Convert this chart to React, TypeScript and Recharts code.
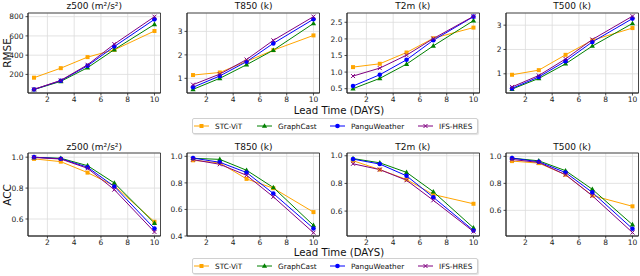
import React from 'react';
import { LineChart, Line, XAxis, YAxis, CartesianGrid, ReferenceArea } from 'recharts';

const FONT = "'DejaVu Sans', sans-serif";

const days = [1, 3, 5, 7, 10];
const xTicks = [2, 4, 6, 8, 10];

// RMSE
const rmseZ500Stc = [166, 265, 380, 455, 651];
const rmseZ500Gc = [43, 128, 270, 458, 720];
const rmseZ500Pw = [44, 135, 290, 490, 772];
const rmseZ500Ifs = [45, 138, 300, 515, 800];

const rmseT850Stc = [1.14, 1.25, 1.72, 2.2, 2.83];
const rmseT850Gc = [0.53, 1.0, 1.58, 2.2, 3.34];
const rmseT850Pw = [0.62, 1.1, 1.71, 2.49, 3.52];
const rmseT850Ifs = [0.73, 1.18, 1.8, 2.62, 3.63];

const rmseT2mStc = [1.15, 1.25, 1.59, 2.02, 2.34];
const rmseT2mGc = [0.5, 0.81, 1.24, 1.79, 2.55];
const rmseT2mPw = [0.58, 0.92, 1.37, 1.96, 2.67];
const rmseT2mIfs = [0.88, 1.12, 1.51, 2.01, 2.68];

const rmseT500Stc = [0.96, 1.15, 1.78, 2.38, 2.88];
const rmseT500Gc = [0.37, 0.81, 1.41, 2.14, 3.07];
const rmseT500Pw = [0.4, 0.87, 1.52, 2.31, 3.27];
const rmseT500Ifs = [0.46, 0.93, 1.61, 2.41, 3.37];

// ACC
const accZ500Stc = [0.989, 0.971, 0.9, 0.815, 0.582];
const accZ500Gc = [0.999, 0.993, 0.945, 0.833, 0.573];
const accZ500Pw = [1.0, 0.99, 0.935, 0.81, 0.538];
const accZ500Ifs = [0.998, 0.988, 0.928, 0.79, 0.516];

const accT850Stc = [0.97, 0.95, 0.83, 0.76, 0.58];
const accT850Gc = [0.985, 0.977, 0.895, 0.765, 0.48];
const accT850Pw = [0.987, 0.955, 0.878, 0.72, 0.457];
const accT850Ifs = [0.975, 0.94, 0.857, 0.695, 0.425];

const accT2mStc = [0.964, 0.9, 0.828, 0.72, 0.653];
const accT2mGc = [0.98, 0.949, 0.88, 0.74, 0.479];
const accT2mPw = [0.976, 0.94, 0.855, 0.7, 0.46];
const accT2mIfs = [0.942, 0.9, 0.823, 0.678, 0.452];

const accT500Stc = [0.965, 0.95, 0.864, 0.71, 0.63];
const accT500Gc = [0.987, 0.967, 0.894, 0.756, 0.494];
const accT500Pw = [0.987, 0.96, 0.88, 0.733, 0.464];
const accT500Ifs = [0.977, 0.955, 0.864, 0.708, 0.436];

const titles = ['z500 (m²/s²)', 'T850 (k)', 'T2m (k)', 'T500 (k)'];
const seriesNames = ['STC-ViT', 'GraphCast', 'PanguWeather', 'IFS-HRES'];
const colors = ['#FFA500', '#008000', '#0000FF', '#800080'];

const panels = [
  { row: 0, col: 0, s: [rmseZ500Stc, rmseZ500Gc, rmseZ500Pw, rmseZ500Ifs], domain: [7, 838], ticks: [200, 400, 600, 800], dec: 0 },
  { row: 0, col: 1, s: [rmseT850Stc, rmseT850Gc, rmseT850Pw, rmseT850Ifs], domain: [0.375, 3.785], ticks: [1, 2, 3], dec: 0 },
  { row: 0, col: 2, s: [rmseT2mStc, rmseT2mGc, rmseT2mPw, rmseT2mIfs], domain: [0.37, 2.78], ticks: [0.5, 1.0, 1.5, 2.0, 2.5], dec: 1 },
  { row: 0, col: 3, s: [rmseT500Stc, rmseT500Gc, rmseT500Pw, rmseT500Ifs], domain: [0.21, 3.5], ticks: [1, 2, 3], dec: 0 },
  { row: 1, col: 0, s: [accZ500Stc, accZ500Gc, accZ500Pw, accZ500Ifs], domain: [0.49, 1.027], ticks: [0.6, 0.8, 1.0], dec: 1 },
  { row: 1, col: 1, s: [accT850Stc, accT850Gc, accT850Pw, accT850Ifs], domain: [0.4, 1.025], ticks: [0.4, 0.6, 0.8, 1.0], dec: 1 },
  { row: 1, col: 2, s: [accT2mStc, accT2mGc, accT2mPw, accT2mIfs], domain: [0.42, 1.02], ticks: [0.6, 0.8, 1.0], dec: 1 },
  { row: 1, col: 3, s: [accT500Stc, accT500Gc, accT500Pw, accT500Ifs], domain: [0.41, 1.025], ticks: [0.6, 0.8, 1.0], dec: 1 },
];

const keys = ['stc', 'gc', 'pw', 'ifs'];

function Marker({ kind, cx, cy, color }: any) {
  if (cx == null || cy == null) return null;
  if (kind === 0) return <rect x={cx - 2} y={cy - 2} width={4} height={4} fill={color} />;
  if (kind === 1)
    return <polygon points={`${cx},${cy - 2.8} ${cx - 2.6},${cy + 1.8} ${cx + 2.6},${cy + 1.8}`} fill={color} />;
  if (kind === 2) return <circle cx={cx} cy={cy} r={2.3} fill={color} />;
  return (
    <path d={`M${cx - 2},${cy - 2}L${cx + 2},${cy + 2}M${cx - 2},${cy + 2}L${cx + 2},${cy - 2}`} stroke={color} strokeWidth={1} />
  );
}

const makeDot = (kind: number) => (props: any) => (
  <g key={`d-${kind}-${props.index}`}>
    <Marker kind={kind} cx={props.cx} cy={props.cy} color={colors[kind]} />
  </g>
);

const PLOT_X0 = 28;
const PLOT_STEP = 159.3;
const PLOT_W = 132.5;
const ROW_Y = [13, 153];
const ROW_H = [80, 83];
const YAXW = 30;

function Panel({ p }: any) {
  const plotX = PLOT_X0 + p.col * PLOT_STEP;
  const plotY = ROW_Y[p.row];
  const plotH = ROW_H[p.row];
  const data = days.map((d, i) => ({
    day: d,
    stc: p.s[0][i],
    gc: p.s[1][i],
    pw: p.s[2][i],
    ifs: p.s[3][i],
  }));
  const tickStyle = { fontSize: 7.5, fill: '#222', fontFamily: FONT };
  return (
    <>
      <div style={{ position: 'absolute', left: plotX - YAXW, top: plotY - 2 }}>
        <LineChart width={PLOT_W + YAXW + 4} height={plotH + 18} data={data} margin={{ top: 2, right: 4, bottom: 0, left: 0 }}>
          <CartesianGrid stroke="#dcdcdc" strokeWidth={0.8} />
          <XAxis
            dataKey="day"
            type="number"
            domain={[0.55, 10.45]}
            ticks={xTicks}
            allowDataOverflow
            interval={0}
            height={16}
            tick={tickStyle}
            tickSize={2.5}
            tickMargin={1}
            axisLine={{ stroke: '#222', strokeWidth: 0.8 }}
            tickLine={{ stroke: '#222', strokeWidth: 0.8 }}
          />
          <YAxis
            type="number"
            domain={p.domain}
            ticks={p.ticks}
            allowDataOverflow
            interval={0}
            width={YAXW}
            tick={tickStyle}
            tickSize={2.5}
            tickMargin={2}
            tickFormatter={(v: number) => v.toFixed(p.dec)}
            axisLine={{ stroke: '#222', strokeWidth: 0.8 }}
            tickLine={{ stroke: '#222', strokeWidth: 0.8 }}
          />
          {keys.map((k, i) => (
            <Line
              key={k}
              dataKey={k}
              stroke={colors[i]}
              strokeWidth={1}
              dot={makeDot(i)}
              activeDot={false}
              isAnimationActive={false}
              type="linear"
            />
          ))}
          <ReferenceArea
            x1={0.55}
            x2={10.45}
            y1={p.domain[0]}
            y2={p.domain[1]}
            fill="none"
            fillOpacity={0}
            stroke="#222"
            strokeWidth={0.8}
            ifOverflow="visible"
          />
        </LineChart>
      </div>
      <div
        style={{
          position: 'absolute',
          left: plotX + PLOT_W / 2,
          top: p.row === 0 ? 6 : 147,
          transform: 'translate(-50%, -50%)',
          fontSize: 9,
          fontFamily: FONT,
          color: '#111',
          whiteSpace: 'nowrap',
        }}
      >
        {titles[p.col]}
      </div>
    </>
  );
}

function LegendBox({ top }: { top: number }) {
  const itemX = [194, 257, 330, 418];
  return (
    <div
      style={{
        position: 'absolute',
        left: 192,
        top,
        width: 284,
        height: 14,
        border: '1px solid #d0d0d0',
        borderRadius: 2,
        background: '#fff',
        boxShadow: '1px 1px 1px rgba(0,0,0,0.12)',
      }}
    >
      {seriesNames.map((n, i) => (
        <React.Fragment key={n}>
          <svg style={{ position: 'absolute', left: itemX[i] - 193, top: 2 }} width={16} height={10}>
            <line x1={0} y1={5} x2={15} y2={5} stroke={colors[i]} strokeWidth={1} />
            <Marker kind={i} cx={7.5} cy={5} color={colors[i]} />
          </svg>
          <div
            style={{
              position: 'absolute',
              left: itemX[i] - 193 + 21,
              top: 7,
              transform: 'translateY(-50%)',
              fontSize: 7.3,
              fontFamily: FONT,
              color: '#111',
              whiteSpace: 'nowrap',
            }}
          >
            {n}
          </div>
        </React.Fragment>
      ))}
    </div>
  );
}

function RotLabel({ text, x, y }: any) {
  return (
    <div
      style={{
        position: 'absolute',
        left: x,
        top: y,
        transform: 'translate(-50%, -50%) rotate(-90deg)',
        fontSize: 10.5,
        fontFamily: FONT,
        color: '#111',
        whiteSpace: 'nowrap',
      }}
    >
      {text}
    </div>
  );
}

function XLabel({ y }: { y: number }) {
  return (
    <div
      style={{
        position: 'absolute',
        left: 339,
        top: y,
        transform: 'translate(-50%, -50%)',
        fontSize: 10.2,
        fontFamily: FONT,
        color: '#111',
        whiteSpace: 'nowrap',
      }}
    >
      Lead Time (DAYS)
    </div>
  );
}

export default function App() {
  return (
    <div style={{ position: 'absolute', left: 0, top: 0, width: 640, height: 276, background: '#fff', overflow: 'hidden' }}>
      {panels.map((p, i) => (
        <Panel key={i} p={p} />
      ))}
      <RotLabel text="RMSE" x={7} y={53} />
      <RotLabel text="ACC" x={7} y={195} />
      <XLabel y={110} />
      <XLabel y={252} />
      <LegendBox top={118} />
      <LegendBox top={258} />
    </div>
  );
}
